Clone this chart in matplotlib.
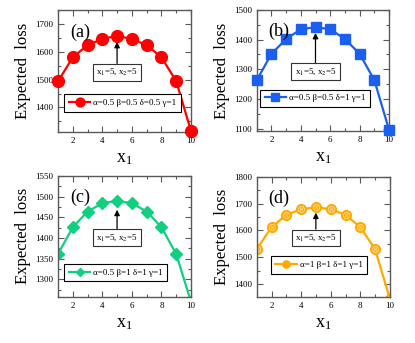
import numpy as np
import matplotlib
matplotlib.use('Agg')
import matplotlib.pyplot as plt
import matplotlib.ticker as ticks

plt.rcParams['font.family'] = ['Liberation Serif', 'DejaVu Serif']
plt.rcParams['mathtext.fontset'] = 'stix'

x1 = [1, 2, 3, 4, 5, 6, 7, 8, 9, 10]
loss_a = [1494, 1580, 1624, 1646, 1657, 1646, 1624, 1580, 1494, 1315]
loss_b = [1263, 1352, 1402, 1435, 1442, 1435, 1402, 1352, 1263, 1095]
loss_c = [1361, 1426, 1464, 1484, 1490, 1484, 1464, 1426, 1361, 1245]
loss_d = [1530, 1612, 1658, 1679, 1686, 1679, 1658, 1612, 1530, 1345]

labels = ['α=0.5 β=0.5 δ=0.5 γ=1',
          'α=0.5 β=0.5 δ=1 γ=1',
          'α=0.5 β=1 δ=1 γ=1',
          'α=1 β=1 δ=1 γ=1']
tags = ['(a)', '(b)', '(c)', '(d)']

fig = plt.figure(figsize=(4.15, 3.43), dpi=100)

# panel geometry in figure fraction
rects = [[0.1398, 0.6152, 0.3205, 0.3557],
         [0.6186, 0.6180, 0.3190, 0.3530],
         [0.1398, 0.1350, 0.3205, 0.3520],
         [0.6186, 0.1350, 0.3210, 0.3500]]
ylims = [(1312, 1750), (1092, 1500), (1258, 1550), (1354, 1800)]
ysteps = [100, 100, 50, 100]
cols = ['#ff0000', '#1a5ff0', '#10d080', '#ffaa00']
data = [loss_a, loss_b, loss_c, loss_d]
legpos = [(0.485, 0.238), (0.44, 0.27), (0.434, 0.20), (0.468, 0.264)]
tips = [0.738, 0.81, 0.72, 0.70]

for i in range(4):
    ax = fig.add_axes(rects[i])
    c = cols[i]
    y = data[i]
    if i == 0:
        ln, = ax.plot(x1, y, '-o', color=c, lw=1.6, ms=8.5, clip_on=False, zorder=3)
    elif i == 1:
        ln, = ax.plot(x1, y, '-s', color=c, lw=1.6, ms=7.5, clip_on=False, zorder=3)
    elif i == 2:
        ln, = ax.plot(x1, y, '-D', color=c, lw=1.6, ms=6)
    else:
        ln, = ax.plot(x1, y, '-o', color=c, lw=1.6, ms=7)
        ax.plot(x1, y, 'o', color='none', mec='#ffd88a', mew=0.6, ms=4.5)
        ax.plot(x1, y, 'x', color='#ffd88a', mew=0.6, ms=3.5)

    ax.set_xlim(1, 10)
    ax.set_ylim(*ylims[i])
    ax.xaxis.set_major_locator(ticks.MultipleLocator(2))
    ax.xaxis.set_minor_locator(ticks.MultipleLocator(1))
    ax.yaxis.set_major_locator(ticks.MultipleLocator(ysteps[i]))
    ax.yaxis.set_minor_locator(ticks.MultipleLocator(ysteps[i] / 2))
    ax.tick_params(which='both', direction='in', top=True, right=True,
                   labelsize=6.5, color='0.35', width=0.8)
    ax.tick_params(which='major', length=4)
    ax.tick_params(which='minor', length=2)
    for s in ax.spines.values():
        s.set_color('0.35')
        s.set_linewidth(1.0)

    ax.set_xlabel(r'$\mathregular{x_1}$', fontsize=13, labelpad=4)
    ax.set_ylabel('Expected  loss', fontsize=12, labelpad=3)

    ax.text(0.09, 0.82, tags[i], transform=ax.transAxes, fontsize=13,
            ha='left', va='center')

    ax.annotate(r'x$_1$=5, x$_2$=5', xy=(0.444, tips[i]), xycoords='axes fraction',
                xytext=(0.444, 0.49), textcoords='axes fraction',
                ha='center', va='center', fontsize=6.5,
                bbox=dict(boxstyle='square,pad=0.35', fc='white', ec='0.2', lw=0.8),
                arrowprops=dict(arrowstyle='-|>', color='black', lw=0.9,
                                mutation_scale=8, shrinkA=0, shrinkB=0))

    leg = ax.legend([ln], [labels[i]], loc='center', bbox_to_anchor=legpos[i],
                    fontsize=6.5, fancybox=False, edgecolor='black',
                    handlelength=2.4, markerscale=0.75, borderpad=0.5,
                    handletextpad=0.3, framealpha=1)
    leg.get_frame().set_linewidth(0.8)

fig.savefig('out.png', dpi=100)
